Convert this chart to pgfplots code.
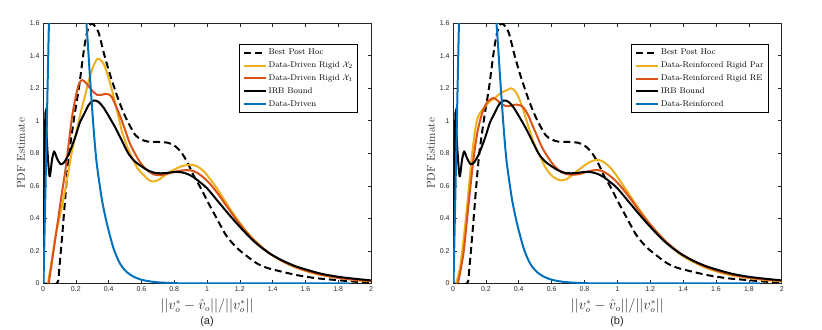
\documentclass[border=0pt]{standalone}
\usepackage{fontspec}
\setsansfont{Liberation Sans}
\usepackage{pgfplots}
\pgfplotsset{compat=1.18}
\definecolor{mblue}{rgb}{0,0.447,0.741}
\definecolor{mred}{rgb}{0.85,0.325,0.098}
\definecolor{myellow}{rgb}{0.929,0.694,0.125}
\definecolor{axgray}{rgb}{0.15,0.15,0.15}

\pgfplotstableread{
x y
0 0
0.085 0
0.10 0.10
0.12 0.33
0.14 0.58
0.16 0.80
0.19 1.02
0.22 1.21
0.25 1.44
0.27 1.55
0.29 1.595
0.31 1.59
0.34 1.54
0.37 1.42
0.41 1.28
0.46 1.13
0.50 1.03
0.535 0.96
0.565 0.91
0.60 0.885
0.64 0.872
0.70 0.870
0.76 0.865
0.80 0.848
0.84 0.81
0.88 0.745
0.92 0.66
0.96 0.59
1.00 0.51
1.04 0.435
1.08 0.36
1.12 0.29
1.18 0.22
1.24 0.17
1.30 0.125
1.36 0.097
1.43 0.078
1.55 0.05
1.67 0.031
1.79 0.02
1.90 0.01
2.0 0.005
}\besthoc

\pgfplotstableread{
x y
0 0
0.008 0.6
0.015 1.05
0.025 0.85
0.04 0.66
0.055 0.76
0.068 0.81
0.085 0.77
0.105 0.735
0.125 0.74
0.15 0.78
0.175 0.84
0.20 0.91
0.225 0.99
0.25 1.04
0.28 1.10
0.31 1.125
0.34 1.115
0.37 1.08
0.40 1.03
0.44 0.96
0.48 0.88
0.52 0.80
0.56 0.75
0.60 0.72
0.64 0.695
0.68 0.68
0.72 0.677
0.76 0.68
0.80 0.685
0.84 0.684
0.88 0.673
0.92 0.652
0.96 0.62
1.00 0.585
1.06 0.513
1.12 0.44
1.18 0.37
1.24 0.305
1.30 0.246
1.38 0.185
1.46 0.14
1.54 0.105
1.62 0.08
1.70 0.058
1.80 0.04
1.90 0.028
2.0 0.018
}\irb

\pgfplotstableread{
x y
0.003 0
0.036 1.6
0.05 2.3
0.10 3.2
0.17 3.4
0.23 2.5
0.255 1.8
0.265 1.6
0.275 1.45
0.285 1.29
0.295 1.14
0.305 1.00
0.315 0.87
0.325 0.76
0.335 0.68
0.345 0.61
0.36 0.51
0.38 0.41
0.40 0.325
0.43 0.215
0.46 0.14
0.48 0.105
0.51 0.07
0.55 0.042
0.60 0.022
0.65 0.012
0.70 0.006
0.78 0.002
0.9 0
1.87 0
}\blue

\pgfplotstableread{
x y
0.03 0
0.05 0.12
0.076 0.29
0.10 0.40
0.127 0.53
0.15 0.66
0.178 0.82
0.205 0.94
0.23 1.05
0.255 1.15
0.28 1.25
0.305 1.33
0.33 1.38
0.35 1.375
0.37 1.35
0.395 1.28
0.42 1.19
0.45 1.07
0.48 0.94
0.51 0.85
0.54 0.78
0.575 0.71
0.615 0.665
0.65 0.632
0.68 0.628
0.71 0.64
0.75 0.67
0.80 0.70
0.85 0.722
0.90 0.73
0.94 0.72
0.98 0.69
1.02 0.64
1.06 0.585
1.12 0.49
1.18 0.40
1.24 0.32
1.30 0.255
1.38 0.185
1.46 0.135
1.54 0.098
1.62 0.07
1.70 0.05
1.80 0.033
1.90 0.02
2.0 0.012
}\yela

\pgfplotstableread{
x y
0.035 0
0.06 0.17
0.086 0.35
0.11 0.52
0.137 0.70
0.158 0.87
0.178 1.03
0.20 1.15
0.22 1.23
0.24 1.25
0.26 1.235
0.28 1.21
0.305 1.18
0.33 1.16
0.355 1.16
0.38 1.165
0.40 1.163
0.42 1.145
0.445 1.09
0.47 1.03
0.50 0.945
0.53 0.86
0.56 0.80
0.595 0.74
0.63 0.70
0.67 0.672
0.71 0.665
0.75 0.672
0.80 0.685
0.85 0.695
0.90 0.695
0.94 0.68
0.98 0.65
1.02 0.61
1.06 0.56
1.12 0.475
1.18 0.39
1.24 0.315
1.30 0.252
1.38 0.185
1.46 0.137
1.54 0.1
1.62 0.073
1.70 0.052
1.80 0.034
1.90 0.022
2.0 0.014
}\reda

\pgfplotstableread{
x y
0.018 0
0.043 0.10
0.073 0.35
0.103 0.66
0.125 0.87
0.145 1.00
0.165 1.05
0.19 1.08
0.225 1.12
0.26 1.145
0.29 1.17
0.33 1.19
0.355 1.20
0.38 1.18
0.405 1.13
0.43 1.06
0.46 0.96
0.49 0.87
0.53 0.78
0.57 0.70
0.61 0.655
0.65 0.634
0.69 0.64
0.73 0.67
0.78 0.71
0.83 0.745
0.875 0.76
0.91 0.75
0.95 0.72
0.99 0.67
1.03 0.61
1.08 0.535
1.13 0.46
1.18 0.39
1.24 0.315
1.30 0.25
1.38 0.18
1.46 0.132
1.54 0.095
1.62 0.068
1.70 0.048
1.80 0.032
1.90 0.02
2.0 0.012
}\yelb

\pgfplotstableread{
x y
0.03 0
0.063 0.18
0.093 0.47
0.124 0.76
0.145 0.91
0.164 1.00
0.185 1.07
0.205 1.11
0.225 1.13
0.245 1.14
0.265 1.13
0.286 1.11
0.31 1.095
0.337 1.09
0.36 1.095
0.387 1.10
0.41 1.095
0.43 1.08
0.455 1.04
0.48 0.98
0.51 0.91
0.54 0.84
0.575 0.78
0.61 0.73
0.645 0.695
0.68 0.675
0.72 0.668
0.77 0.672
0.82 0.688
0.87 0.697
0.91 0.69
0.95 0.665
0.99 0.63
1.03 0.585
1.08 0.52
1.13 0.45
1.18 0.385
1.24 0.315
1.30 0.253
1.38 0.187
1.46 0.138
1.54 0.10
1.62 0.073
1.70 0.053
1.80 0.035
1.90 0.023
2.0 0.015
}\redb

\pgfplotsset{
  myax/.style={
    scale only axis,
    height=260bp,
    xmin=0, xmax=2, ymin=0, ymax=1.6,
    xtick={0,0.2,...,2.01},
    ytick={0,0.2,...,1.61},
    axis line style={axgray, line width=0.6bp},
    tick style={axgray, line width=0.6bp},
    major tick length=3.5bp,
    tick align=inside,
    /pgf/number format/assume math mode=true,
    ticklabel style={font=\fontsize{7}{8}\sffamily, text=axgray},
    xlabel={$||v_o^*-\hat{v}_o||/||v_o^*||$},
    xlabel style={font=\fontsize{13.5}{14}\selectfont, text=axgray, yshift=0bp},
    ylabel={PDF Estimate},
    ylabel style={font=\fontsize{11.5}{12}\selectfont, text=axgray, yshift=-2bp},
    legend cell align=left,
    legend style={at={(rel axis cs:0.961,0.919)}, anchor=north east,
      draw=black, line width=0.8bp, font=\fontsize{8.3}{9}\selectfont,
      inner xsep=3bp, inner ysep=2.5bp, row sep=1.6bp},
    legend image code/.code={\draw[##1, line width=2bp] (0bp,0bp) -- (22bp,0bp);},
    every axis plot/.append style={line width=2bp},
  }
}

\begin{document}
\begin{tikzpicture}[x=1bp,y=1bp]
\useasboundingbox (0,0) rectangle (822,329);
\begin{axis}[myax, width=328bp, at={(43bp,45.7bp)}, anchor=south west]
\addplot[black, dash pattern=on 7bp off 4bp, smooth] table {\besthoc};
\addlegendentry{Best Post Hoc}
\addplot[myellow, smooth] table {\yela};
\addlegendentry{Data-Driven Rigid $\mathcal{X}_2$}
\addplot[mred, smooth] table {\reda};
\addlegendentry{Data-Driven Rigid $\mathcal{X}_1$}
\addplot[black, smooth] table {\irb};
\addlegendentry{IRB Bound}
\addplot[mblue, smooth] table {\blue};
\addlegendentry{Data-Driven}
\end{axis}
\begin{axis}[myax, width=328.7bp, at={(453bp,45.7bp)}, anchor=south west]
\addplot[black, dash pattern=on 7bp off 4bp, smooth] table {\besthoc};
\addlegendentry{Best Post Hoc}
\addplot[myellow, smooth] table {\yelb};
\addlegendentry{Data-Reinforced Rigid Par}
\addplot[mred, smooth] table {\redb};
\addlegendentry{Data-Reinforced Rigid RE}
\addplot[black, smooth] table {\irb};
\addlegendentry{IRB Bound}
\addplot[mblue, smooth] table {\blue};
\addlegendentry{Data-Reinforced}
\end{axis}
\node[font=\fontsize{11}{12}\sffamily, text=axgray] at (207,7) {(a)};
\node[font=\fontsize{11}{12}\sffamily, text=axgray] at (617,7) {(b)};
\end{tikzpicture}
\end{document}
